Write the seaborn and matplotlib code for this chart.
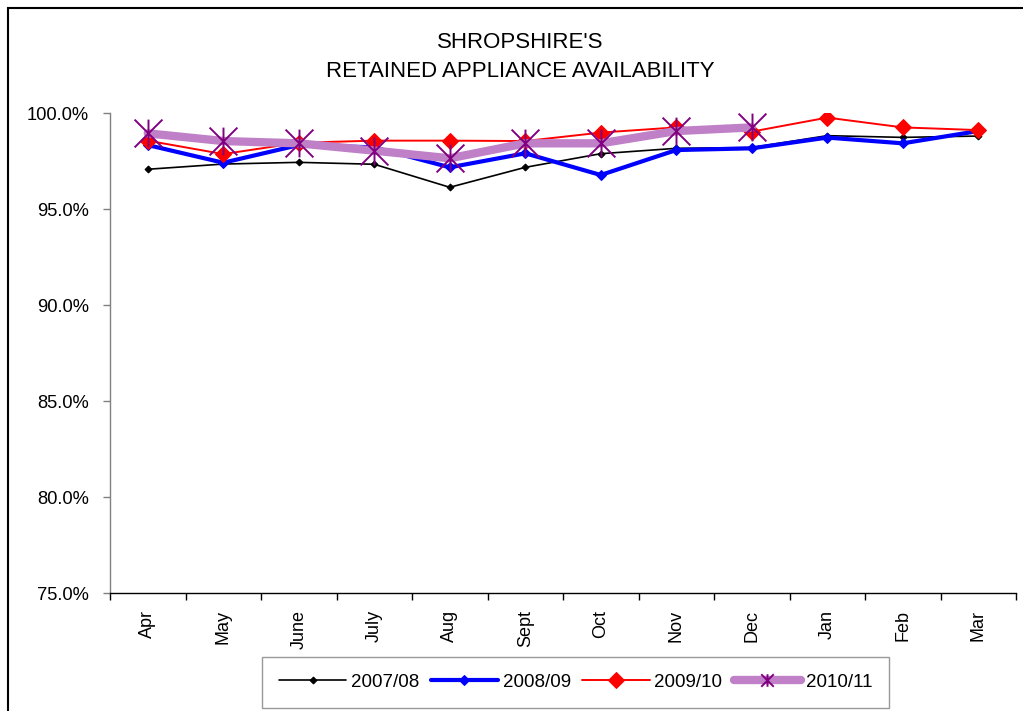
import numpy as np
import pandas as pd
import seaborn as sns
import matplotlib.pyplot as plt
from matplotlib.path import Path
from matplotlib.patches import Rectangle
from matplotlib.ticker import FuncFormatter, FixedLocator

months = ["Apr", "May", "June", "July", "Aug", "Sept", "Oct", "Nov", "Dec", "Jan", "Feb", "Mar"]
y0708 = [97.07, 97.34, 97.43, 97.33, 96.13, 97.17, 97.88, 98.16, 98.20, 98.82, 98.73, 98.80]
y0809 = [98.33, 97.41, 98.33, 98.21, 97.17, 97.90, 96.77, 98.07, 98.16, 98.72, 98.42, 99.06]
y0910 = [98.56, 97.86, 98.45, 98.56, 98.56, 98.54, 98.98, 99.25, 99.03, 99.76, 99.25, 99.11]
y1011 = [98.94, 98.54, 98.42, 98.04, 97.64, 98.42, 98.42, 99.06, 99.25]

sns.set_style("white")
plt.rcParams['font.family'] = ['Liberation Sans', 'DejaVu Sans']
plt.rcParams['text.color'] = 'black'
plt.rcParams['xtick.color'] = 'black'
plt.rcParams['ytick.color'] = 'black'
plt.rcParams['xtick.labelcolor'] = 'black'
plt.rcParams['ytick.labelcolor'] = 'black'

fig = plt.figure(figsize=(10.23, 7.11), dpi=100)
ax = fig.add_axes([110/1023, 1-593/711, 906/1023, 480/711])

pos = np.arange(len(months))

# excel style star marker: vertical bar + x
star = Path([(0, -1), (0, 1), (-1, -1), (1, 1), (-1, 1), (1, -1)],
            [Path.MOVETO, Path.LINETO, Path.MOVETO, Path.LINETO, Path.MOVETO, Path.LINETO])

sns.lineplot(x=pos, y=y0708, ax=ax, color='black', lw=1.2, marker='D', ms=3.5,
             mec='black', label='2007/08', sort=False)
sns.lineplot(x=pos, y=y0809, ax=ax, color='#0000ff', lw=3, marker='D', ms=5.5,
             mec='#0000ff', label='2008/09', sort=False)
sns.lineplot(x=pos, y=y0910, ax=ax, color='#ff0000', lw=1.4, marker='D', ms=8.5,
             mec='#ff0000', label='2009/10', sort=False)
sns.lineplot(x=pos[:len(y1011)], y=y1011, ax=ax, color='#c080c8', lw=6, marker=star, ms=20,
             mec='#800080', mew=1.4, label='2010/11', sort=False)

ax.set_xlim(-0.5, 11.5)
ax.set_ylim(75, 100)
ax.set_yticks([75, 80, 85, 90, 95, 100])
ax.yaxis.set_major_formatter(FuncFormatter(lambda v, p: f"{v:.1f}%"))
ax.set_xticks(pos)
ax.set_xticklabels(months, rotation=90)
ax.xaxis.set_minor_locator(FixedLocator(np.arange(-0.5, 12, 1)))
ax.tick_params(axis='x', which='major', length=0, pad=12, labelsize=13)
ax.tick_params(axis='x', which='minor', length=5, width=1, color='black', direction='out', bottom=True)
ax.tick_params(axis='y', length=5, width=1, color='#808080', direction='out', left=True, pad=10, labelsize=13.2)
ax.set_xlabel('')
ax.set_ylabel('')

for s in ['top', 'right']:
    ax.spines[s].set_visible(False)
ax.spines['left'].set_color('#808080')
ax.spines['bottom'].set_color('black')
ax.spines['left'].set_linewidth(1)
ax.spines['bottom'].set_linewidth(1)

ax.get_legend().remove()
h, l = ax.get_legend_handles_labels()
leg = fig.legend(h, l, loc='upper left', bbox_to_anchor=(262/1023, 1-657/711), ncol=4,
                 fontsize=13.5, frameon=True, fancybox=False, edgecolor='#808080',
                 handlelength=3.6, handletextpad=0.25, columnspacing=0.6, borderpad=0.9,
                 borderaxespad=0)
leg.get_frame().set_linewidth(1)
for hd in leg.legend_handles:
    if hd.get_label() == '2010/11':
        hd.set_markersize(9)

fig.text(520/1023, 1-57/711, "SHROPSHIRE'S\nRETAINED APPLIANCE AVAILABILITY",
         ha='center', va='center', fontsize=16, linespacing=1.45)

fig.patches.append(Rectangle((8/1023, -0.1), 1.2, 1.1 - 8/711, transform=fig.transFigure,
                             fill=False, edgecolor='black', lw=1.5))

fig.savefig('out.png', dpi=100)
